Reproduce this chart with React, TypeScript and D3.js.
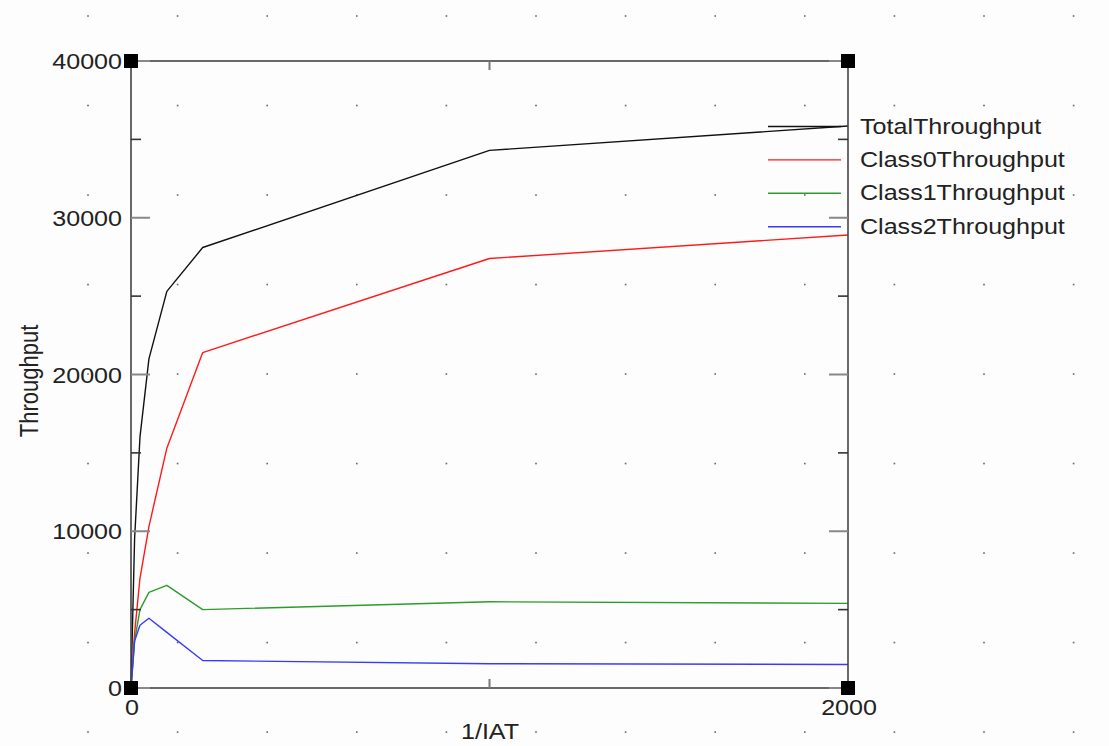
import React from "react";
import * as d3 from "d3";

// Offered load (1/IAT) sample points
const iat = [0, 10, 25, 50, 100, 200, 1000, 2000];
// Measured throughput per series
const totalThroughput = [0, 9500, 16000, 21000, 25300, 28100, 34300, 35850];
const class0Throughput = [0, 3500, 7000, 10300, 15300, 21400, 27400, 28900];
const class1Throughput = [0, 3000, 5000, 6100, 6550, 5000, 5500, 5400];
const class2Throughput = [0, 3000, 4000, 4450, 3550, 1750, 1550, 1500];

const seriesNames = ["TotalThroughput", "Class0Throughput", "Class1Throughput", "Class2Throughput"];
const seriesColors = ["#111111", "#ff1a1a", "#2a9d2a", "#3a3aff"];
const seriesValues = [totalThroughput, class0Throughput, class1Throughput, class2Throughput];

const yTickValues = [0, 5000, 10000, 15000, 20000, 25000, 30000, 35000, 40000];
const yLabelValues = [0, 10000, 20000, 30000, 40000];
const xLabelValues = [0, 2000];
const xTickValues = [1000];

const W = 1109;
const H = 746;
const left = 131;
const right = 848;
const top = 61;
const bottom = 688;
const FONT = "'Liberation Sans', Arial, Helvetica, sans-serif";
const SX = 1.14; // horizontal stretch of the lettering

function Label(props: { x: number; y: number; anchor?: string; children: React.ReactNode; rotate?: number }) {
  const { x, y, anchor = "start", children, rotate } = props;
  const t = rotate ? `translate(${x},${y}) rotate(${rotate}) scale(1,${SX})` : `translate(${x},${y}) scale(${SX},1)`;
  return (
    <text transform={t} textAnchor={anchor} fontFamily={FONT} fontSize={22} fill="#222">
      {children}
    </text>
  );
}

export default function App() {
  const x = d3.scaleLinear().domain([0, 2000]).range([left, right]);
  const y = d3.scaleLinear().domain([0, 40000]).range([bottom, top]);

  const line = d3
    .line<[number, number]>()
    .x((d) => x(d[0]))
    .y((d) => y(d[1]));

  const gridStep = 89.6;
  const dotXs = d3.range(88, W, gridStep);
  const dotYs = d3.range(16, H, gridStep * 0.999);

  const legendX0 = 768;
  const legendX1 = 841;
  const legendTop = 126.5;
  const legendStep = 33.4;

  const corners: [number, number][] = [
    [left, top],
    [right, top],
    [left, bottom],
    [right, bottom],
  ];

  return (
    <svg
      width={W}
      height={H}
      style={{ position: "absolute", left: 0, top: 0, background: "#fdfdfd" }}
    >
      {/* dotted background grid */}
      <g fill="#666">
        {dotXs.map((dx) =>
          dotYs.map((dy) => <rect key={`${dx}-${dy}`} x={dx - 0.8} y={dy - 0.8} width={1.6} height={1.6} />)
        )}
      </g>

      {/* series */}
      {seriesValues.map((vals, i) => (
        <path
          key={seriesNames[i]}
          d={line(iat.map((v, j) => [v, vals[j]] as [number, number])) || ""}
          fill="none"
          stroke={seriesColors[i]}
          strokeWidth={1.4}
          strokeLinejoin="round"
        />
      ))}

      {/* plot frame */}
      <rect x={left} y={top} width={right - left} height={bottom - top} fill="none" stroke="#444" strokeWidth={1.6} />

      {/* y ticks on both sides */}
      {yTickValues.map((v) => {
        const major = v % 10000 === 0;
        const len = major ? 19 : 10;
        return (
          <g key={`yt-${v}`} stroke={major ? "#888" : "#333"} strokeWidth={major ? 2 : 1.6}>
            <line x1={left} x2={left + len} y1={y(v)} y2={y(v)} />
            <line x1={right - len} x2={right} y1={y(v)} y2={y(v)} />
          </g>
        );
      })}

      {/* x ticks top and bottom */}
      {xTickValues.map((v) => (
        <g key={`xt-${v}`} stroke="#777" strokeWidth={2}>
          <line x1={x(v)} x2={x(v)} y1={bottom} y2={bottom - 9} />
          <line x1={x(v)} x2={x(v)} y1={top} y2={top + 9} />
        </g>
      ))}

      {/* corner handles */}
      {corners.map(([cx, cy], i) => (
        <rect key={`c-${i}`} x={cx - 7} y={cy - 7} width={14} height={14} fill="#000" />
      ))}

      {/* y tick labels */}
      {yLabelValues.map((v) => (
        <Label key={`yl-${v}`} x={122} y={y(v) + 8} anchor="end">
          {String(v)}
        </Label>
      ))}

      {/* x tick labels */}
      {xLabelValues.map((v) => (
        <Label key={`xl-${v}`} x={x(v) + 1} y={715} anchor="middle">
          {String(v)}
        </Label>
      ))}

      {/* axis titles */}
      <Label x={490} y={739} anchor="middle">
        1/IAT
      </Label>
      <Label x={38} y={381} anchor="middle" rotate={-90}>
        Throughput
      </Label>

      {/* legend */}
      {seriesNames.map((name, i) => {
        const ly = legendTop + i * legendStep;
        return (
          <g key={`lg-${name}`}>
            <line x1={legendX0} x2={legendX1} y1={ly} y2={ly} stroke={seriesColors[i]} strokeWidth={1.4} />
            <Label x={860} y={ly + 7}>
              {name}
            </Label>
          </g>
        );
      })}
    </svg>
  );
}
